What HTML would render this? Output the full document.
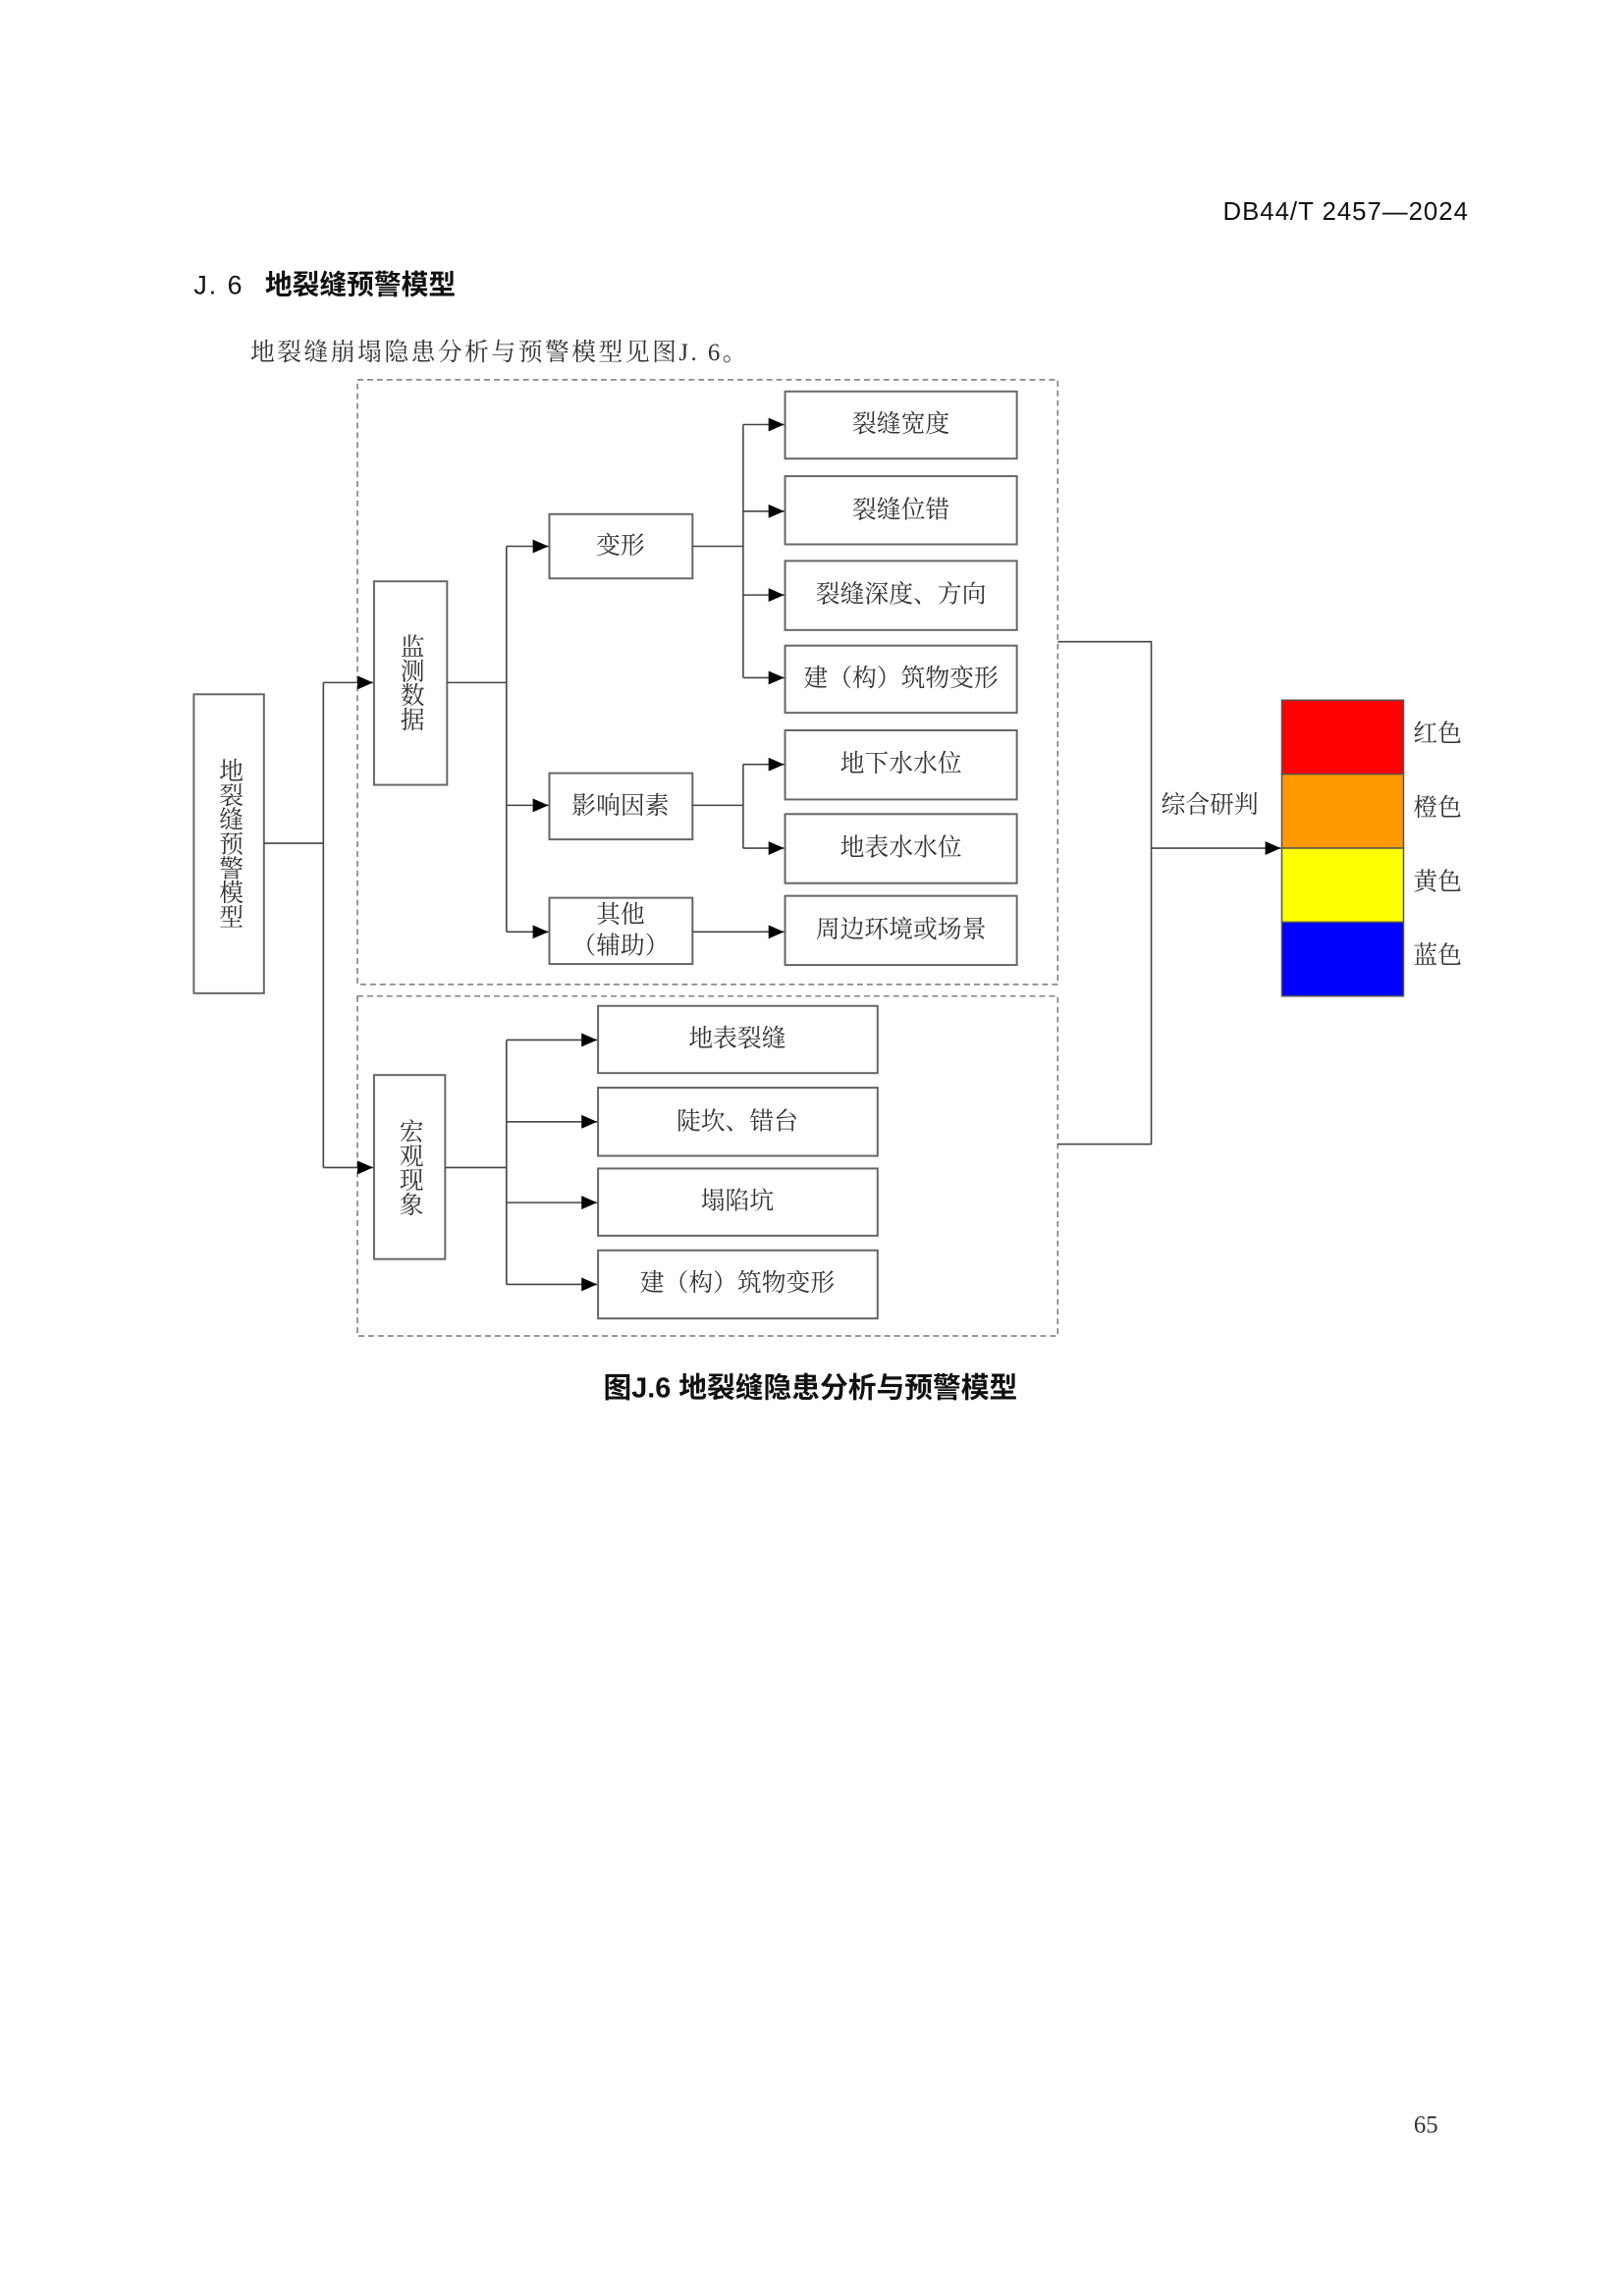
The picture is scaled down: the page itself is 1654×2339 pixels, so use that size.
<!DOCTYPE html>
<html><head><meta charset="utf-8"><style>
html,body{margin:0;padding:0;background:#fff}
svg{display:block}
.s{font-family:"Liberation Serif","Noto Serif CJK SC",serif;font-size:25px;fill:#333}
.h{font-family:"Liberation Sans","Noto Sans CJK SC",sans-serif;fill:#111}
</style></head><body>
<svg width="1654" height="2339" viewBox="0 0 1654 2339" xmlns="http://www.w3.org/2000/svg">
<defs>
<marker id="b" markerWidth="16" markerHeight="14" refX="16" refY="7" orient="auto" markerUnits="userSpaceOnUse"><path d="M0,0 L16,7 L0,14z" fill="#000"/></marker></defs>
<g transform="scale(0.992)">
<text x="1508" y="226" text-anchor="end" class="h" font-size="26" letter-spacing="1">DB44/T 2457—2024</text>
<text x="199" y="302" class="h" font-size="27" letter-spacing="2">J. 6</text>
<text x="272" y="302" class="h" font-size="28" font-weight="bold">地裂缝预警模型</text>
<text x="257" y="364" class="s" font-size="31" fill="#222" dominant-baseline="middle" letter-spacing="2.5">地裂缝崩塌隐患分析与预警模型见图J. 6。</text>
<g fill="none" stroke="#777" stroke-width="1.5" stroke-dasharray="6,4">
<rect x="367" y="390" width="719" height="621"/>
<rect x="367" y="1023" width="719" height="349"/>
</g>
<g fill="#fff" stroke="#666" stroke-width="2">
<rect x="199" y="713" width="72" height="307"/>
<rect x="384" y="597" width="75" height="209"/>
<rect x="564" y="528" width="147" height="66"/>
<rect x="564" y="794" width="147" height="68"/>
<rect x="564" y="922" width="147" height="68"/>
<rect x="806" y="402" width="238" height="69"/>
<rect x="806" y="489" width="238" height="70"/>
<rect x="806" y="576" width="238" height="71"/>
<rect x="806" y="663" width="238" height="69"/>
<rect x="806" y="750" width="238" height="71"/>
<rect x="806" y="836" width="238" height="71"/>
<rect x="806" y="920" width="238" height="71"/>
<rect x="384" y="1104" width="73" height="189"/>
<rect x="614" y="1033" width="287" height="69"/>
<rect x="614" y="1117" width="287" height="70"/>
<rect x="614" y="1200" width="287" height="69"/>
<rect x="614" y="1284" width="287" height="70"/>
</g>
<g fill="none" stroke="#444" stroke-width="1.6">
<path d="M271 866H332M332 701V1199"/>
<path d="M332 701H383" marker-end="url(#b)"/><path d="M332 1199H383" marker-end="url(#b)"/>
<path d="M459 701H520M520 561V957"/>
<path d="M520 561H563" marker-end="url(#b)"/><path d="M520 827H563" marker-end="url(#b)"/><path d="M520 957H563" marker-end="url(#b)"/>
<path d="M711 561H763M763 436V696M711 827H763M763 785V871"/>
<path d="M763 436H805" marker-end="url(#b)"/><path d="M763 525H805" marker-end="url(#b)"/><path d="M763 611H805" marker-end="url(#b)"/><path d="M763 696H805" marker-end="url(#b)"/>
<path d="M763 785H805" marker-end="url(#b)"/><path d="M763 871H805" marker-end="url(#b)"/><path d="M711 957H805" marker-end="url(#b)"/>
<path d="M457 1199H520M520 1068V1319"/>
<path d="M520 1068H613" marker-end="url(#b)"/><path d="M520 1152H613" marker-end="url(#b)"/><path d="M520 1235H613" marker-end="url(#b)"/><path d="M520 1319H613" marker-end="url(#b)"/>
<path d="M1086 659H1182V1175H1086"/>
<path d="M1182 871H1315" marker-end="url(#b)"/>
</g>
<g stroke="#555" stroke-width="1.5">
<rect x="1316" y="719" width="125" height="76" fill="#ff0000"/>
<rect x="1316" y="795" width="125" height="76" fill="#ff9900"/>
<rect x="1316" y="871" width="125" height="76" fill="#ffff00"/>
<rect x="1316" y="947" width="125" height="76" fill="#0000ff"/>
</g>
<g class="s" dominant-baseline="central" text-anchor="middle">
<text x="235" y="866" style="writing-mode:vertical-rl">地裂缝预警模型</text>
<text x="421" y="701" style="writing-mode:vertical-rl">监测数据</text>
<text x="420" y="1199" style="writing-mode:vertical-rl">宏观现象</text>
<text x="637" y="561">变形</text>
<text x="637" y="828">影响因素</text>
<text x="637" y="940">其他</text>
<text x="637" y="972">（辅助）</text>
<text x="925" y="436">裂缝宽度</text>
<text x="925" y="524">裂缝位错</text>
<text x="925" y="611">裂缝深度、方向</text>
<text x="925" y="697">建（构）筑物变形</text>
<text x="925" y="785">地下水水位</text>
<text x="925" y="871">地表水水位</text>
<text x="925" y="955">周边环境或场景</text>
<text x="757" y="1067">地表裂缝</text>
<text x="757" y="1152">陡坎、错台</text>
<text x="757" y="1234">塌陷坑</text>
<text x="757" y="1318">建（构）筑物变形</text>
<text x="1242" y="827">综合研判</text>
<text x="1476" y="754">红色</text>
<text x="1476" y="830">橙色</text>
<text x="1476" y="906">黄色</text>
<text x="1476" y="982">蓝色</text>
</g>
<text x="832" y="1435" text-anchor="middle" class="h" font-size="29" font-weight="bold">图J.6 地裂缝隐患分析与预警模型</text>
<text x="1464" y="2190" text-anchor="middle" class="s" font-size="23" fill="#222">65</text>
</g>
</svg>
</body></html>
